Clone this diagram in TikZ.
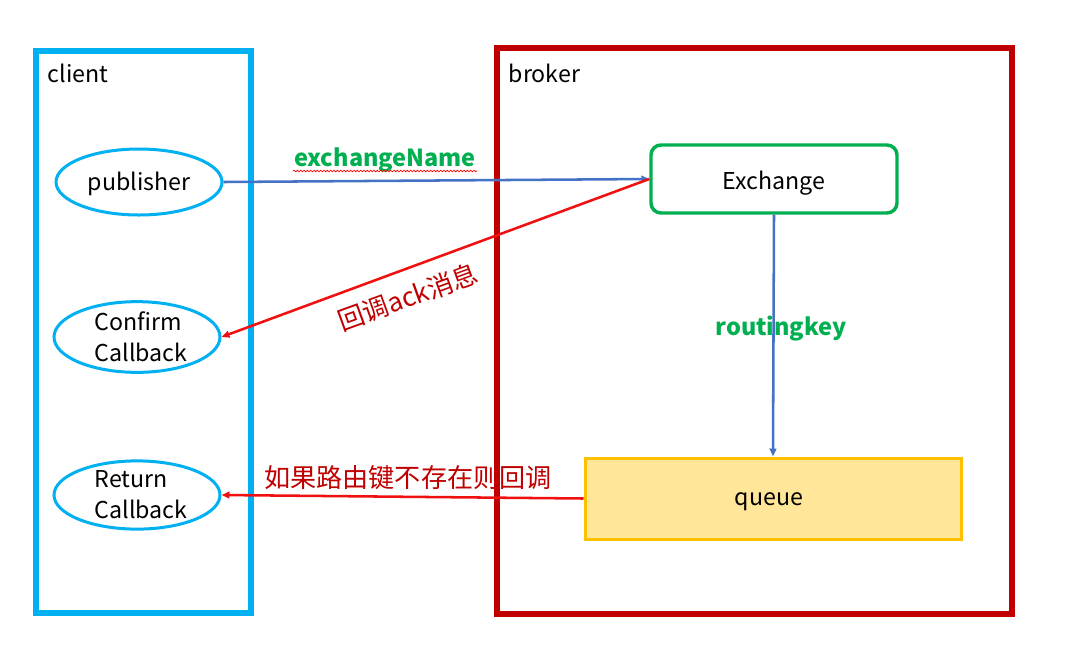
\documentclass[tikz,border=0pt]{standalone}
\usepackage{fontspec}
\setmainfont{Noto Sans CJK SC}
\usetikzlibrary{arrows.meta,decorations.pathmorphing,shapes.geometric}
\definecolor{cyanb}{HTML}{00B0F0}
\definecolor{brokerred}{HTML}{C00000}
\definecolor{grn}{HTML}{00B050}
\definecolor{blu}{HTML}{4472C4}
\definecolor{arred}{HTML}{F01010}
\definecolor{qfill}{HTML}{FFE699}
\definecolor{qline}{HTML}{FFC000}
\newcommand{\dn}[2]{\raisebox{-#1}[\height][\depth]{#2}}
\begin{document}
\begin{tikzpicture}[x=0.75pt,y=-0.75pt,
  txt/.style={font=\fontsize{17.4}{23.2}\selectfont},
  client/.style={draw=cyanb,line width=2.25pt,ellipse,minimum width=124.5pt,minimum height=49.5pt,inner sep=0pt,txt,align=left},
  blarrow/.style={draw=blu,line width=1.9pt,-{Triangle[length=6pt,width=5pt]}},
  rdarrow/.style={draw=arred,line width=1.9pt,-{Triangle[length=6pt,width=5pt]}},
  grlabel/.style={text=grn,font=\fontsize{17.6}{20}\selectfont\bfseries},
  rdlabel/.style={text=brokerred,font=\fontsize{19.6}{22}\selectfont}]
\useasboundingbox (0,0) rectangle (1085,658);
\fill[white] (0,0) rectangle (1085,658);
% containers
\draw[cyanb,line width=4.5pt] (36,51) rectangle (251,613);
\draw[brokerred,line width=4.5pt] (497,48) rectangle (1012,614);
\node[txt,anchor=west] (clientlbl) at (43,73) {client};
\node[txt,anchor=west] (brokerlbl) at (504,73) {broker};
% client nodes
\node[client] (pub) at (139,182) {\dn{1.6pt}{publisher}};
\node[client] (conf) at (137,337) {\hspace*{6pt}Confirm\\\hspace*{6pt}Callback};
\node[client] (ret) at (137,495) {\hspace*{6pt}Return\\\hspace*{6pt}Callback};
% broker nodes
\node[draw=grn,line width=2.6pt,rounded corners=7.5pt,minimum width=184.5pt,minimum height=51pt,txt] (ex) at (774,179) {\dn{3pt}{Exchange}};
\node[draw=qline,fill=qfill,line width=2.25pt,minimum width=282pt,minimum height=60.75pt,txt] (queue) at (773,498.5) {\hspace*{-6pt}\dn{2.5pt}{queue}};
% connectors
\draw[blarrow] (pub.east) -- (ex.west);
\draw[rdarrow] (ex.west) -- (conf.east);
\draw[blarrow] (ex.south) -- (queue.north);
\draw[rdarrow] (queue.west) -- (ret.east);
% labels
\node[grlabel] (exname) at (385,160) {exchangeName};
\draw[red,line width=0.5pt,decorate,decoration={snake,amplitude=0.6pt,segment length=2.5pt}] (293,171) -- (477,171);
\node[grlabel] (rk) at (781,329) {routingkey};
\node[rdlabel,rotate=20] (acklbl) at (408,297) {回调ack消息};
\node[rdlabel] (retlbl) at (408,478) {如果路由键不存在则回调};
\end{tikzpicture}
\end{document}
